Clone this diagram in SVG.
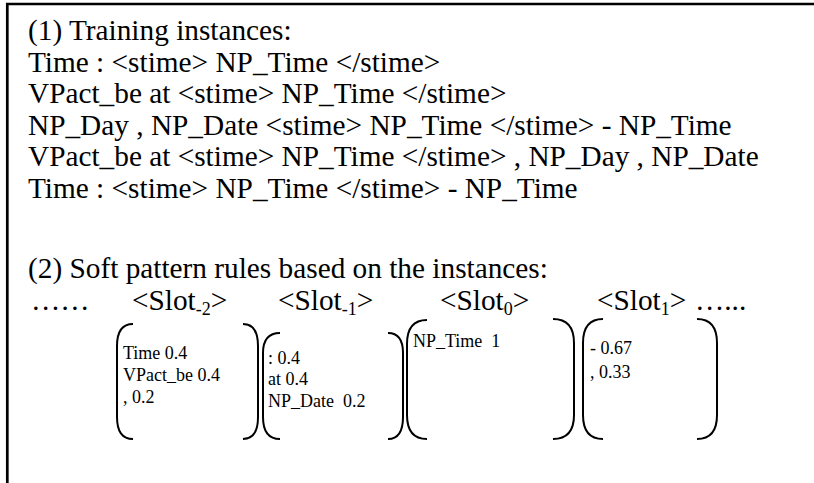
<svg xmlns="http://www.w3.org/2000/svg" width="814" height="483" viewBox="0 0 814 483">
  <style>
    text { font-family: "Liberation Serif", "Times New Roman", serif; fill: #000; }
    .big { font-size: 29.3px; }
    .small { font-size: 18px; }
    .sub { font-size: 18px; }
    .frame { fill: none; stroke: #000; stroke-width: 2.7; }
    .paren { fill: none; stroke: #000; stroke-width: 2; }
  </style>
  <rect x="0" y="0" width="814" height="483" fill="#fff"/>

  <!-- open frame: top and left edges only -->
  <path class="frame" d="M7.3,483 V4 H814"/>

  <g id="training-instances">
    <text class="big" x="28" y="40">(1) Training instances:</text>
    <text class="big" x="28" y="71.5">Time : &lt;stime&gt; NP_Time &lt;/stime&gt;</text>
    <text class="big" x="28" y="103">VPact_be at &lt;stime&gt; NP_Time &lt;/stime&gt;</text>
    <text class="big" x="28" y="134.5">NP_Day , NP_Date &lt;stime&gt; NP_Time &lt;/stime&gt; - NP_Time</text>
    <text class="big" x="28" y="166">VPact_be at &lt;stime&gt; NP_Time &lt;/stime&gt; , NP_Day , NP_Date</text>
    <text class="big" x="28" y="198">Time : &lt;stime&gt; NP_Time &lt;/stime&gt; - NP_Time</text>
  </g>

  <g id="soft-pattern-rules">
    <text class="big" x="28" y="278">(2) Soft pattern rules based on the instances:</text>
    <text class="big" x="31" y="310">……</text>
    <text class="big" x="132" y="310">&lt;Slot<tspan class="sub" dy="5">-2</tspan><tspan dy="-5">&gt;</tspan></text>
    <text class="big" x="278" y="310">&lt;Slot<tspan class="sub" dy="5">-1</tspan><tspan dy="-5">&gt;</tspan></text>
    <text class="big" x="440" y="310">&lt;Slot<tspan class="sub" dy="5">0</tspan><tspan dy="-5">&gt;</tspan></text>
    <text class="big" x="597" y="310">&lt;Slot<tspan class="sub" dy="5">1</tspan><tspan dy="-5">&gt;</tspan></text>
    <text class="big" x="695" y="310">…...</text>
  </g>

  <g id="slot-minus-2">
    <path class="paren" d="M133,324 Q117,324 117,346 V417 Q117,439 133,439"/>
    <path class="paren" d="M243,324 Q258,324 258,346 V417 Q258,439 243,439"/>
    <text class="small" x="123" y="359">Time 0.4</text>
    <text class="small" x="123" y="381">VPact_be 0.4</text>
    <text class="small" x="123" y="403">, 0.2</text>
  </g>

  <g id="slot-minus-1">
    <path class="paren" d="M280,333 Q263,333 263,353 V417 Q263,439 280,439"/>
    <path class="paren" d="M388,333 Q403,333 403,353 V417 Q403,439 388,439"/>
    <text class="small" x="268" y="364">: 0.4</text>
    <text class="small" x="268" y="385">at 0.4</text>
    <text class="small" x="268" y="407" xml:space="preserve">NP_Date  0.2</text>
  </g>

  <g id="slot-0">
    <path class="paren" d="M427,320 Q407,320 407,344 V415 Q407,439 427,439"/>
    <path class="paren" d="M553,319 Q574,319 574,343 V415 Q574,439 553,439"/>
    <text class="small" x="413" y="347" xml:space="preserve">NP_Time  1</text>
  </g>

  <g id="slot-1">
    <path class="paren" d="M603,319 Q583,319 583,343 V415 Q583,439 603,439"/>
    <path class="paren" d="M697,319 Q717,319 717,343 V415 Q717,439 697,439"/>
    <text class="small" x="590" y="354">- 0.67</text>
    <text class="small" x="590" y="378">, 0.33</text>
  </g>
</svg>
